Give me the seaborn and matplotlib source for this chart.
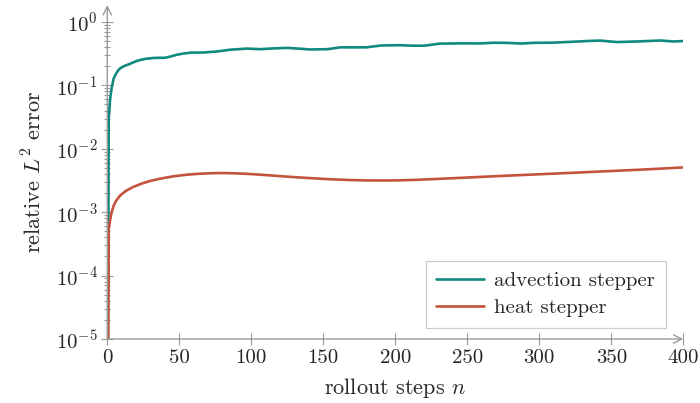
import numpy as np
import pandas as pd
import matplotlib
matplotlib.use("Agg")
import matplotlib.pyplot as plt
import matplotlib.ticker as mticker
import seaborn as sns

# ---- data ----
adv_n = [0, 1, 2, 3, 4.4, 6, 7.5, 9, 11, 13, 15, 18, 20, 23, 27, 32, 36, 40, 44, 48, 53, 58,
         67, 76, 85, 97, 106, 115, 125, 134,
         141, 153, 162, 171, 180, 190, 203, 212, 220, 231, 247, 259, 268, 278, 287, 296, 310,
         324, 333, 342, 354, 368, 384, 393, 400]
adv_err = [1e-8, 0.03, 0.062, 0.09, 0.128, 0.152, 0.172, 0.186, 0.198, 0.207, 0.215, 0.23,
           0.24, 0.252, 0.263, 0.27, 0.272, 0.272, 0.285, 0.303, 0.318,
           0.328, 0.33, 0.342, 0.364, 0.38, 0.372, 0.382, 0.39, 0.378,
           0.368, 0.372, 0.398, 0.397, 0.398, 0.425, 0.43, 0.422, 0.422, 0.455, 0.46, 0.458,
           0.47, 0.468, 0.456, 0.468, 0.472, 0.488, 0.5, 0.508, 0.482, 0.492, 0.51, 0.492, 0.50]

heat_n = [0, 1, 2, 3, 4.4, 6, 9, 13, 18, 24, 30, 38, 46, 55, 65, 73, 81, 90, 99, 110, 122,
          134, 146, 158, 169, 180, 192, 203, 215, 231, 248, 266, 283, 301, 318, 335, 352, 370,
          385, 400]
heat_err = [1e-8, 5.5e-4, 7.6e-4, 1.0e-3, 1.26e-3, 1.5e-3, 1.84e-3, 2.17e-3, 2.5e-3, 2.83e-3,
            3.12e-3, 3.42e-3, 3.68e-3, 3.9e-3, 4.05e-3, 4.12e-3, 4.14e-3, 4.09e-3, 4.0e-3,
            3.85e-3, 3.67e-3, 3.52e-3, 3.39e-3, 3.28e-3, 3.21e-3, 3.17e-3, 3.16e-3, 3.18e-3,
            3.24e-3, 3.36e-3, 3.5e-3, 3.66e-3, 3.81e-3, 3.97e-3, 4.13e-3, 4.3e-3, 4.48e-3,
            4.68e-3, 4.87e-3, 5.08e-3]

series_names = ["advection stepper", "heat stepper"]
series_colors = ["#118a7e", "#c4533d"]
x_ticks = [0, 50, 100, 150, 200, 250, 300, 350, 400]

df = pd.concat([
    pd.DataFrame({"n": adv_n, "err": adv_err, "series": series_names[0]}),
    pd.DataFrame({"n": heat_n, "err": heat_err, "series": series_names[1]}),
], ignore_index=True)

sns.set_theme(style="white")
plt.rcParams["font.family"] = ["cmr10", "DejaVu Serif"]
plt.rcParams["mathtext.fontset"] = "cm"
plt.rcParams["axes.formatter.use_mathtext"] = True

gray = "#9a9a9a"
fig = plt.figure(figsize=(7.0, 4.03), dpi=100)
ax = fig.add_axes([107.3 / 700, 1 - 339 / 403, (683.3 - 107.3) / 700, (339 - 5) / 403])

sns.lineplot(data=df, x="n", y="err", hue="series", palette=series_colors,
             hue_order=series_names, linewidth=1.9, ax=ax, legend=True)
for ln in ax.lines:
    ln.set_solid_joinstyle("round")

ax.set_yscale("log")
ax.set_xlim(0, 400)
ax.set_ylim(1e-5, 1.85)
ax.set_xticks(x_ticks)
ax.set_xticklabels([str(t) for t in x_ticks])
ax.yaxis.set_major_locator(mticker.LogLocator(base=10, numticks=20))
ax.yaxis.set_minor_locator(mticker.LogLocator(base=10, subs=np.arange(2, 10), numticks=20))
ax.yaxis.set_minor_formatter(mticker.NullFormatter())

for s in ax.spines.values():
    s.set_visible(False)
ax.annotate("", xy=(1.0, 0), xytext=(0, 0), xycoords="axes fraction",
            arrowprops=dict(arrowstyle="->,head_length=0.5,head_width=0.25", color=gray, lw=1.0,
                            shrinkA=0, shrinkB=0))
ax.annotate("", xy=(0, 1.0), xytext=(0, 0), xycoords="axes fraction",
            arrowprops=dict(arrowstyle="->,head_length=0.5,head_width=0.25", color=gray, lw=1.0,
                            shrinkA=0, shrinkB=0))

ax.tick_params(axis="both", which="major", direction="inout", length=8, width=0.8,
               color=gray, labelsize=15, pad=3, left=True, bottom=True)
ax.tick_params(axis="y", which="minor", direction="inout", length=5, width=0.8,
               color=gray, left=True)

ax.set_xlabel("rollout steps $n$", fontsize=16, labelpad=7)
ax.set_ylabel("relative $L^2$ error", fontsize=16, labelpad=7)

leg = ax.legend(loc="lower right", bbox_to_anchor=(665.7 / 700, 1 - 327.7 / 403),
                bbox_transform=fig.transFigure, fontsize=15, frameon=True, fancybox=False,
                framealpha=1, edgecolor="#cccccc", handlelength=2.3, handletextpad=0.5,
                borderpad=0.5, labelspacing=0.42, borderaxespad=0)
leg.get_frame().set_linewidth(0.9)

fig.savefig("out.png", dpi=100)
